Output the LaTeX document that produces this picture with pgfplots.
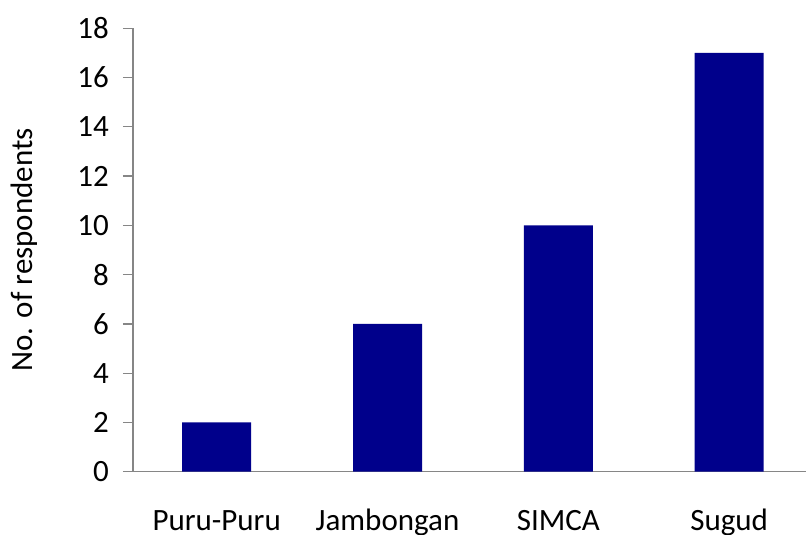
\documentclass[border=0pt]{standalone}
\usepackage{pgfplots}
\pgfplotsset{compat=1.18}
\usepackage{fontspec}
\setmainfont{Carlito}
\definecolor{barblue}{RGB}{0,0,139}
\definecolor{axgray}{RGB}{134,134,134}
\begin{document}
\begin{tikzpicture}
\path[use as bounding box] (-133bp,-63.3bp) rectangle (673bp,471.7bp);
\begin{axis}[
  at={(0,0)}, anchor=south west,
  scale only axis, width=673bp, height=443.4bp,
  xmin=-0.49, xmax=3.45, ymin=0, ymax=18,
  axis x line*=bottom, axis y line*=left,
  axis line style={draw=axgray, line width=1.3bp, -},
  ytick={0,2,...,18},
  xtick={0,1,2,3},
  xticklabels={Puru-Puru,Jambongan,SIMCA,Sugud},
  x tick style={draw=none},
  y tick style={draw=axgray, line width=1.3bp},
  tick align=outside, major tick length=10bp,
  /pgf/number format/assume math mode=true,
  ticklabel style={font=\fontsize{31bp}{36bp}\selectfont},
  yticklabel style={anchor=east, inner sep=0pt, xshift=-14bp},
  xticklabel style={anchor=base, inner sep=0pt, yshift=-49bp},
  ylabel={No. of respondents},
  every axis y label/.style={at={(axis description cs:0,0.5)}, xshift=-100bp, rotate=90, anchor=base, inner sep=0pt, font=\fontsize{31bp}{36bp}\selectfont},
  clip=false,
]
\addplot[ybar, bar width=69bp, fill=barblue, draw=none] coordinates {(0,2) (1,6) (2,10) (3,17)};
\end{axis}
\end{tikzpicture}
\end{document}
